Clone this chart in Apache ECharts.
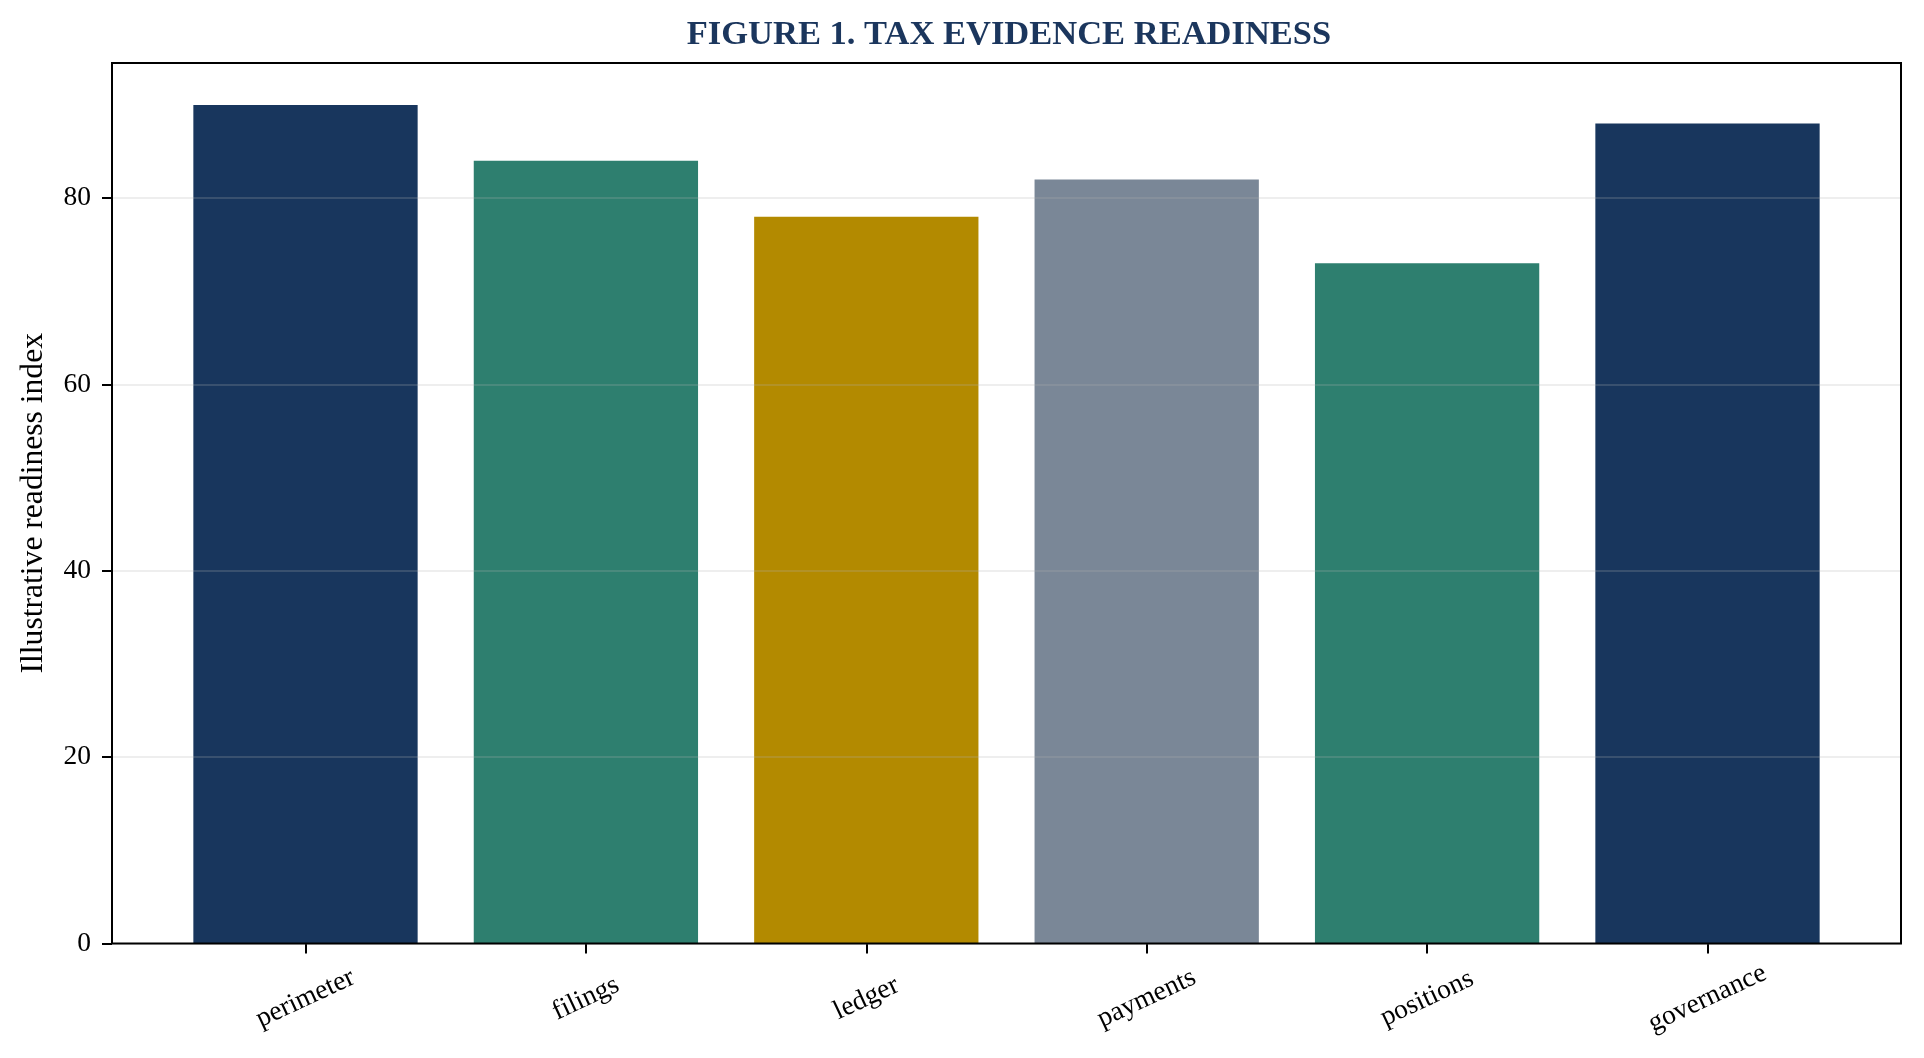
<!DOCTYPE html>
<html>
<head>
<meta charset="utf-8">
<style>
  html, body { margin: 0; padding: 0; background: #fff; }
  #chart { width: 1924px; height: 1058px; }
</style>
<script src="https://cdn.jsdelivr.net/npm/echarts@6/dist/echarts.min.js"></script>
</head>
<body>
<div id="chart"></div>
<script>
// chart data
const categories = ['perimeter', 'filings', 'ledger', 'payments', 'positions', 'governance'];
const readiness = [90, 84, 78, 82, 73, 88];
const yTicks = [0, 20, 40, 60, 80];

// bar palette, in category order
const palette = ['#18365d', '#2e7f6f', '#b38a00', '#7a8797', '#2e7f6f', '#18365d'];

const FONT = '"Liberation Serif", "DejaVu Serif", serif';
const Y_MAX = 94.5;

const chart = echarts.init(document.getElementById('chart'));

const option = {
    backgroundColor: '#fff',
    animation: false,
    title: {
        text: 'FIGURE 1. TAX EVIDENCE READINESS',
        left: 1004,
        top: 13,
        textAlign: 'center',
        textStyle: { fontFamily: FONT, fontSize: 34.5, fontWeight: 'bold', color: '#1b365d' }
    },
    grid: [
        // outer frame (matplotlib spines) drawn above the bars
        { left: 112, right: 23, top: 63, bottom: 114.5, show: true, borderColor: '#000', borderWidth: 2, backgroundColor: 'transparent', z: 10 },
        // bar area, sized so the bands match the reference spacing
        { left: 165.3, width: 1682.4, top: 63, bottom: 114.5 }
    ],
    xAxis: [
        { gridIndex: 0, type: 'value', min: 0, max: 1, show: false },
        {
            gridIndex: 1,
            type: 'category',
            data: categories,
            axisLine: { show: false },
            axisTick: { show: true, alignWithLabel: true, length: 10, lineStyle: { color: '#000', width: 2 } },
            axisLabel: {
                rotate: 25, align: 'center', verticalAlign: 'middle', margin: 55,
                fontFamily: FONT, fontSize: 27.5, color: '#000'
            },
            splitLine: { show: false }
        }
    ],
    yAxis: [
        {
            gridIndex: 0,
            type: 'value',
            min: 0,
            max: Y_MAX,
            interval: 20,
            z: 5,
            name: 'Illustrative readiness index',
            nameLocation: 'middle',
            nameGap: 62,
            nameTextStyle: { fontFamily: FONT, fontSize: 31.6, color: '#000' },
            axisLine: { show: false },
            axisTick: { show: true, length: 10, customValues: yTicks, lineStyle: { color: '#000', width: 2 } },
            axisLabel: { margin: 21, customValues: yTicks, fontFamily: FONT, fontSize: 27.5, color: '#000' },
            splitLine: { show: true, lineStyle: { color: 'rgba(176,176,176,0.22)', width: 2 } }
        },
        { gridIndex: 1, type: 'value', min: 0, max: Y_MAX, show: false }
    ],
    series: [
        {
            type: 'bar',
            xAxisIndex: 1,
            yAxisIndex: 1,
            barWidth: 224.3,
            data: readiness.map((v, i) => ({ value: v, itemStyle: { color: palette[i] } }))
        }
    ]
};

chart.setOption(option);
</script>
</body>
</html>
